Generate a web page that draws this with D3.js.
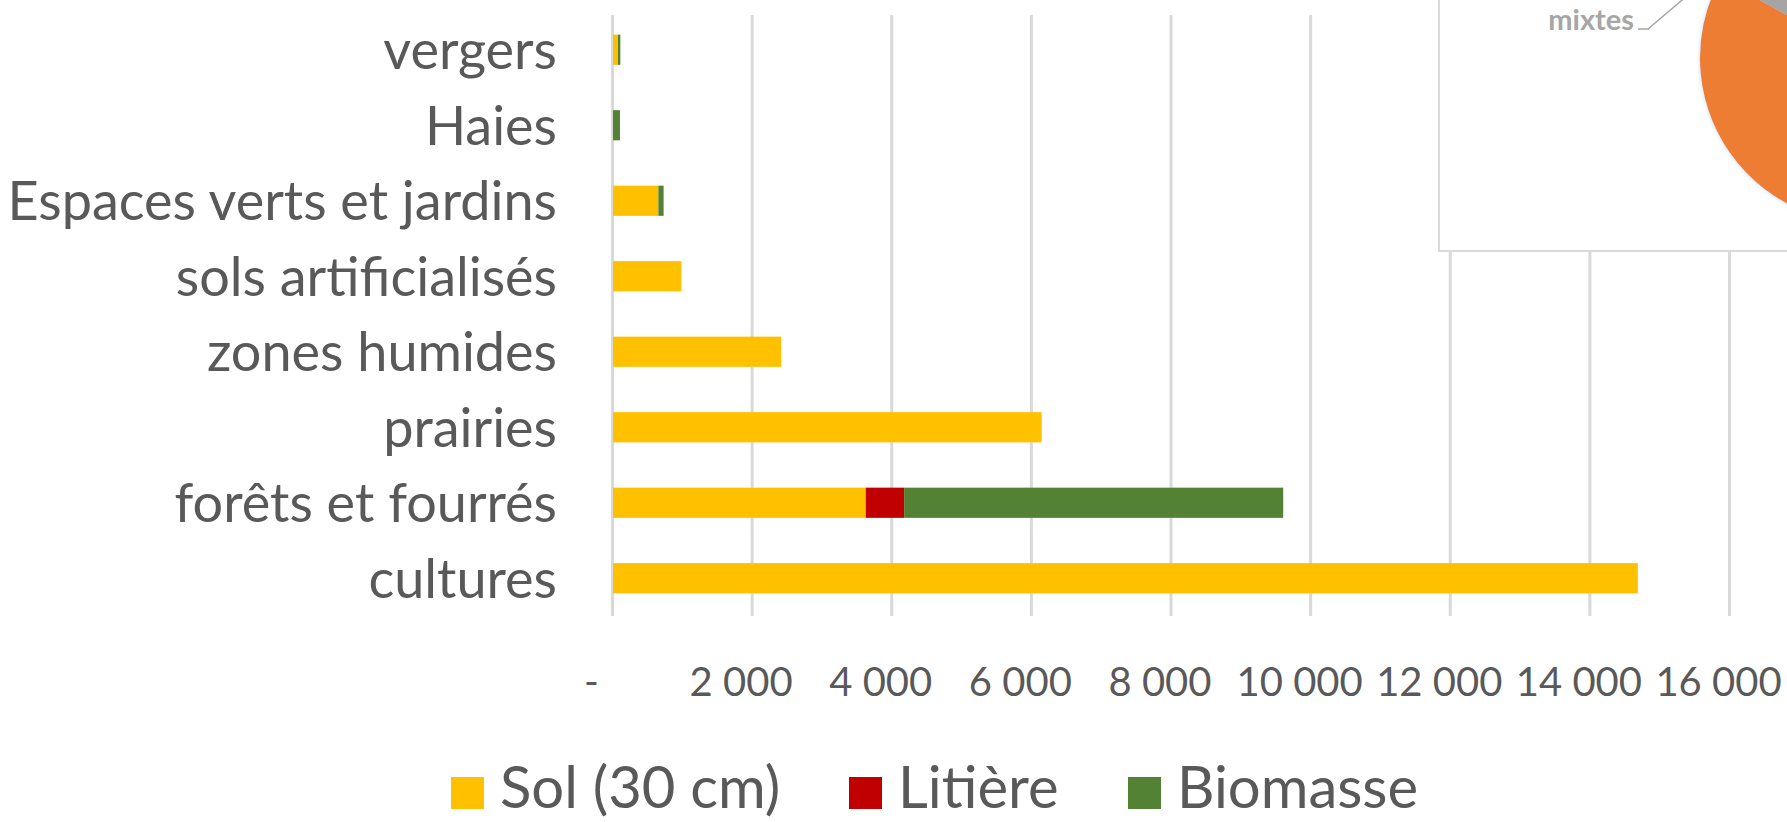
<!DOCTYPE html>
<html>
<head>
<meta charset="utf-8">
<script src="https://cdn.jsdelivr.net/npm/d3@7"></script>
<style>
  body { margin: 0; background: #ffffff; }
  svg { display: block; font-family: Lato, "Open Sans", sans-serif; }
</style>
</head>
<body>
<svg id="viz" width="1787" height="822"></svg>
<script>
  // categories, top to bottom
  let categories = [
    "vergers",
    "Haies",
    "Espaces verts et jardins",
    "sols artificialisés",
    "zones humides",
    "prairies",
    "forêts et fourrés",
    "cultures",
  ];
  // series values
  let solValues = [70, 0, 650, 980, 2410, 6140, 3620, 14680];
  let litiereValues = [0, 0, 0, 0, 0, 0, 550, 0];
  let biomasseValues = [35, 100, 75, 0, 0, 0, 5430, 0];

  let seriesNames = ["Sol (30 cm)", "Litière", "Biomasse"];
  let seriesColors = ["#FFC000", "#C00000", "#548235"];

  let xTicks = [0, 2000, 4000, 6000, 8000, 10000, 12000, 14000, 16000];

  // inset pie (mostly cut off by the window)
  let pieNames = ["conifères", "feuillus", "mixtes"];
  let pieValues = [45, 38, 17];
  let pieColors = ["#4472C4", "#ED7D31", "#A5A5A5"];

  //Graph variables
  let plotLeft = 612;
  let plotRight = 1729;
  let plotTop = 12;
  let plotBottom = 616;
  let textColor = "#595959";
  let gridColor = "#d9d9d9";
  let fontName = "Lato, 'Open Sans', sans-serif";

  let vizArea = d3.select("#viz");

  let xScale = d3.scaleLinear().domain([0, 16000]).range([plotLeft, plotRight]);
  let yScale = d3
    .scaleBand()
    .domain(categories)
    .range([plotTop, plotBottom])
    .paddingInner(0.6)
    .paddingOuter(0.3);

  //stack the three series
  let rows = categories.map((c, i) => ({
    cat: c,
    s0: solValues[i],
    s1: litiereValues[i],
    s2: biomasseValues[i],
  }));
  let stacked = d3.stack().keys(["s0", "s1", "s2"])(rows);

  //vertical gridlines
  let xAxis = vizArea
    .append("g")
    .attr("transform", `translate(0, ${plotBottom})`)
    .call(
      d3
        .axisBottom(xScale)
        .tickValues(xTicks)
        .tickSize(-(plotBottom - plotTop - 3))
        .tickPadding(52)
        .tickFormat((d) => (d === 0 ? "-" : d3.format(",")(d).replace(/,/g, " ")))
    )
    .attr("font-family", fontName);
  xAxis.select(".domain").remove();
  xAxis.selectAll(".tick line").attr("stroke", gridColor).attr("stroke-width", 3);
  xAxis
    .selectAll(".tick text")
    .attr("fill", textColor)
    .attr("font-size", 40)
    .attr("dx", (d) => (d === 0 ? -21 : -11));

  //bars
  vizArea
    .append("g")
    .selectAll("g")
    .data(stacked)
    .enter()
    .append("g")
    .attr("fill", (d, i) => seriesColors[i])
    .selectAll("rect")
    .data((d) => d)
    .enter()
    .append("rect")
    .attr("x", (d) => xScale(d[0]) + 1)
    .attr("y", (d) => yScale(d.data.cat))
    .attr("width", (d) => Math.max(0, xScale(d[1]) - xScale(d[0])))
    .attr("height", yScale.bandwidth());

  //category labels
  let yAxis = vizArea
    .append("g")
    .attr("transform", `translate(${plotLeft - 55}, 0)`)
    .call(d3.axisLeft(yScale).tickSize(0).tickPadding(0))
    .attr("font-family", fontName);
  yAxis.select(".domain").remove();
  yAxis
    .selectAll(".tick text")
    .attr("fill", textColor)
    .attr("font-size", 54)
    .attr("dy", "0.36em");

  //legend
  let legendX = [451, 849, 1128];
  let legend = vizArea
    .append("g")
    .selectAll("g")
    .data(seriesNames)
    .enter()
    .append("g")
    .attr("transform", (d, i) => `translate(${legendX[i]}, 777)`);
  legend
    .append("rect")
    .attr("width", 33)
    .attr("height", 32)
    .attr("fill", (d, i) => seriesColors[i]);
  legend
    .append("text")
    .attr("x", 49)
    .attr("y", 31)
    .attr("fill", textColor)
    .attr("font-size", 58)
    .text((d) => d);

  //inset box with the pie chart
  let inset = vizArea.append("g");
  inset
    .append("rect")
    .attr("x", 1439)
    .attr("y", -10)
    .attr("width", 400)
    .attr("height", 261)
    .attr("fill", "#ffffff")
    .attr("stroke", gridColor)
    .attr("stroke-width", 2);

  let defs = vizArea.append("defs");
  defs
    .append("filter")
    .attr("id", "glow")
    .attr("x", "-20%")
    .attr("y", "-20%")
    .attr("width", "140%")
    .attr("height", "140%")
    .append("feDropShadow")
    .attr("dx", 0)
    .attr("dy", 0)
    .attr("stdDeviation", 2)
    .attr("flood-color", "#9dc3e6")
    .attr("flood-opacity", 0.6);

  let pieR = 165;
  let pieCenter = [1865, 58];
  let pie = d3.pie().sort(null)(pieValues);
  let arc = d3.arc().innerRadius(0).outerRadius(pieR);
  let pieG = inset
    .append("g")
    .attr("transform", `translate(${pieCenter[0]}, ${pieCenter[1]})`)
    .attr("filter", "url(#glow)");
  pieG
    .selectAll("path")
    .data(pie)
    .enter()
    .append("path")
    .attr("d", arc)
    .attr("fill", (d, i) => pieColors[i]);

  //label for the "mixtes" slice with its leader line
  let mix = pie[2];
  let mid = (mix.startAngle + mix.endAngle) / 2;
  let p0 = [pieCenter[0] + pieR * Math.sin(mid), pieCenter[1] - pieR * Math.cos(mid)];
  inset
    .append("polyline")
    .attr("points", [p0, [1648, 29], [1638, 29]].map((p) => p.join(",")).join(" "))
    .attr("fill", "none")
    .attr("stroke", "#a6a6a6")
    .attr("stroke-width", 1.5);
  inset
    .append("text")
    .attr("x", 1634)
    .attr("y", 30)
    .attr("text-anchor", "end")
    .attr("fill", "#a6a6a6")
    .attr("font-size", 29)
    .attr("font-weight", "bold")
    .text(pieNames[2]);
</script>
</body>
</html>
